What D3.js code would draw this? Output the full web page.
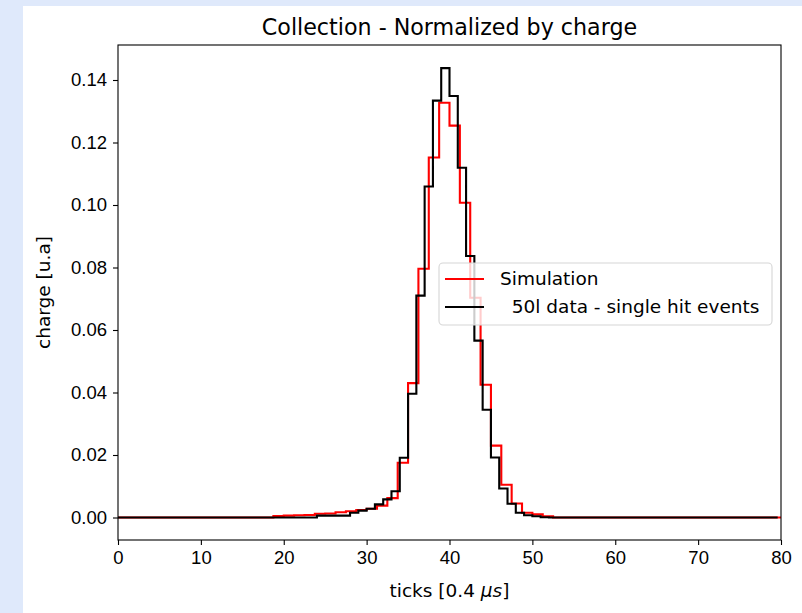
<!DOCTYPE html>
<html>
<head>
<meta charset="utf-8">
<script src="https://cdnjs.cloudflare.com/ajax/libs/d3/7.8.5/d3.min.js"></script>
<style>
  html, body { margin: 0; padding: 0; background: #dfe9fb; }
  svg { display: block; font-family: "DejaVu Sans", sans-serif; }
  .tick text { font-size: 18.5px; fill: #000; }
  .tick line { stroke: #000; stroke-width: 1.1px; }
  .domain { display: none; }
</style>
</head>
<body>
<div id="chart"></div>
<script>
// Simulation (red): bins of 1.25 ticks, left edges + final edge
var simEdges = [0,1.25,2.5,3.75,5,6.25,7.5,8.75,10,11.25,12.5,13.75,15,16.25,17.5,18.75,
  20,21.25,22.5,23.75,25,26.25,27.5,28.75,30,31.25,32.5,33.75,35,36.25,37.5,38.75,
  40,41.25,42.5,43.75,45,46.25,47.5,48.75,50,51.25,52.5,53.75,55,56.25,57.5,58.75,
  60,61.25,62.5,63.75,65,66.25,67.5,68.75,70,71.25,72.5,73.75,75,76.25,77.5,78.75,80];
var simValues = [0,0,0,0,0,0,0,0,0,0,0,0,0,0,0,
  0.0005,0.0006,0.0007,0.0008,0.0012,0.0013,0.0017,0.0020,0.0024,0.0028,
  0.0038,0.0062,0.0175,0.0430,0.0796,0.1152,0.1327,0.1254,0.1007,0.0703,
  0.0425,0.0230,0.0105,0.0045,0.0015,0.0010,0.0004,0,
  0,0,0,0,0,0,0,0,0,0,0,0,0,0,0,0,0,0,0,0,0];

// 50l data - single hit events (black): bins of 1 tick
var dataEdges = [0,1,2,3,4,5,6,7,8,9,10,11,12,13,14,15,16,17,18,19,20,21,22,23,24,25,26,27,28,29,
  30,31,32,33,34,35,36,37,38,39,40,41,42,43,44,45,46,47,48,49,50,51,52,53,54,55,56,57,58,59,
  60,61,62,63,64,65,66,67,68,69,70,71,72,73,74,75,76,77,78,79.6];
var dataValues = [0,0,0,0,0,0,0,0,0,0,0,0,0,0,0,0,0,0,0,0,
  0,0,0,0,0.0006,0.0006,0.0006,0.0006,0.0015,0.0022,
  0.0028,0.0042,0.0058,0.0084,0.0191,0.0396,0.0710,0.1059,0.1334,0.1438,
  0.1349,0.1119,0.0837,0.0566,0.0345,0.0192,0.0093,0.0044,0.0015,0.0007,
  0.0004,0.0001,0,0,0,0,0,0,0,0,0,0,0,0,0,0,0,0,0,0,0,0,0,0,0,0,0,0,0,0];

var xTicks = [0,10,20,30,40,50,60,70,80];
var yTicks = [0,0.02,0.04,0.06,0.08,0.10,0.12,0.14];

var W = 802, H = 613;
var pLeft = 118, pRight = 781, pTop = 45, pBottom = 540;

var svg = d3.select("#chart").append("svg")
  .attr("width", W).attr("height", H);

// figure area
svg.append("rect").attr("x", 23).attr("y", 6).attr("width", W - 23).attr("height", H - 6)
  .attr("fill", "#fff");

var x = d3.scaleLinear().domain([0, 80]).range([pLeft, pRight]);
var y = d3.scaleLinear().domain([-0.0072, 0.1512]).range([pBottom, pTop]);

// step outline of a histogram (edges has one more entry than values)
function stepPoints(edges, values) {
  var pts = [[edges[0], 0]];
  values.forEach(function(v, i) { pts.push([edges[i], v]); });
  var end = edges[values.length];
  pts.push([end, values[values.length - 1]]);
  pts.push([end, 0]);
  return pts;
}

var line = d3.line()
  .x(function(d) { return x(d[0]); })
  .y(function(d) { return y(d[1]); })
  .curve(d3.curveStepAfter);

svg.append("path")
  .datum(stepPoints(simEdges, simValues))
  .attr("fill", "none").attr("stroke", "red").attr("stroke-width", 2.1)
  .attr("d", line);

svg.append("path")
  .datum(stepPoints(dataEdges, dataValues))
  .attr("fill", "none").attr("stroke", "black").attr("stroke-width", 2.1)
  .attr("d", line);

// axes
svg.append("g")
  .attr("transform", "translate(0," + pBottom + ")")
  .call(d3.axisBottom(x).tickValues(xTicks).tickSize(5).tickPadding(6).tickFormat(d3.format("d")));

svg.append("g")
  .attr("transform", "translate(" + pLeft + ",0)")
  .call(d3.axisLeft(y).tickValues(yTicks).tickSize(5).tickPadding(6).tickFormat(d3.format(".2f")));

// frame
svg.append("rect")
  .attr("x", pLeft).attr("y", pTop)
  .attr("width", pRight - pLeft).attr("height", pBottom - pTop)
  .attr("fill", "none").attr("stroke", "#000").attr("stroke-width", 1.1);

// title and labels
svg.append("text")
  .attr("x", (pLeft + pRight) / 2).attr("y", 35)
  .attr("text-anchor", "middle")
  .style("font-size", "22.2px")
  .text("Collection - Normalized by charge");

var xl = svg.append("text")
  .attr("x", (pLeft + pRight) / 2).attr("y", 597)
  .attr("text-anchor", "middle")
  .style("font-size", "18.5px");
xl.append("tspan").text("ticks [0.4 ");
xl.append("tspan").style("font-style", "italic").text("\u03bcs");
xl.append("tspan").text("]");

svg.append("text")
  .attr("transform", "translate(50," + ((pTop + pBottom) / 2) + ") rotate(-90)")
  .attr("text-anchor", "middle")
  .style("font-size", "18.5px")
  .text("charge [u.a]");

// legend
var lg = svg.append("g");
lg.append("rect")
  .attr("x", 439).attr("y", 263).attr("width", 333).attr("height", 62)
  .attr("rx", 4)
  .attr("fill", "#fff").attr("fill-opacity", 0.8)
  .attr("stroke", "#d6d6d6").attr("stroke-width", 1.1);

var legendItems = [
  {label: "Simulation", color: "red"},
  {label: "  50l data - single hit events", color: "black"}
];
legendItems.forEach(function(d, i) {
  var ly = 279 + i * 28;
  lg.append("line")
    .attr("x1", 445).attr("x2", 484).attr("y1", ly).attr("y2", ly)
    .attr("stroke", d.color).attr("stroke-width", 2.1);
  lg.append("text")
    .attr("x", 500).attr("y", ly)
    .attr("dy", "0.35em")
    .style("font-size", "18.5px")
    .style("white-space", "pre")
    .text(d.label);
});
</script>
</body>
</html>
